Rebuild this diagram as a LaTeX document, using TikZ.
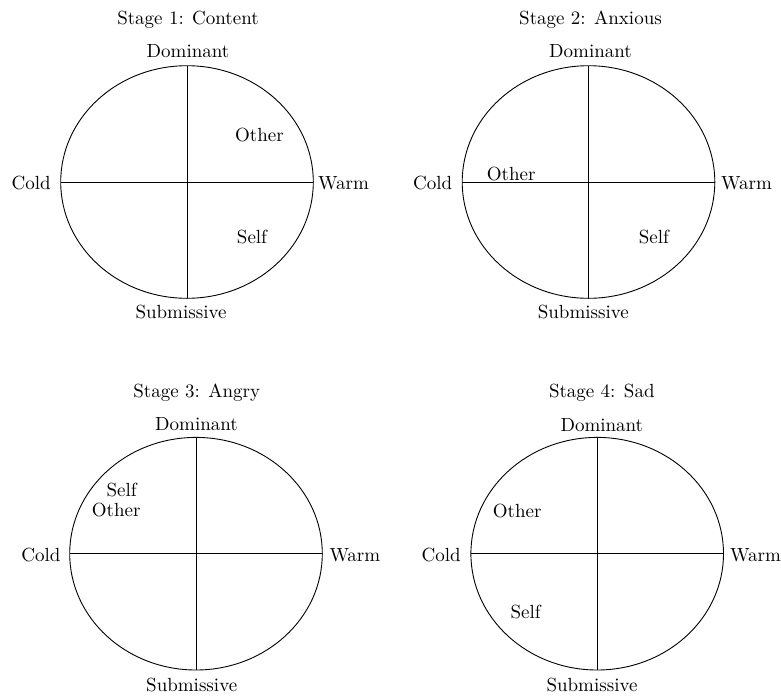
\documentclass[tikz,border=0pt]{standalone}
\usepackage{fontspec}
\setmainfont{lmroman10-regular.otf}
\begin{document}
\begin{tikzpicture}[x=1pt,y=-1pt,
  lbl/.style={inner sep=0pt,anchor=base,font=\fontsize{19}{22}\selectfont},
  lbleast/.style={lbl,anchor=base east},
  lblwest/.style={lbl,anchor=base west},
  circ/.style={draw,line width=0.9pt},
  axis/.style={draw,line width=0.9pt}]
\useasboundingbox (0,0) rectangle (781,696);
\newcommand\drawstage[3]{%
  \coordinate (#1c) at (#2,#3);
  \coordinate (#1l) at (#2-126.3,#3);
  \coordinate (#1r) at (#2+126.3,#3);
  \coordinate (#1t) at (#2,#3-116.3);
  \coordinate (#1b) at (#2,#3+116.3);
  \draw[circ] (#1c) ellipse [x radius=126.3, y radius=116.3];
  \draw[axis] (#1l) -- (#1r);
  \draw[axis] (#1t) -- (#1b);
}
% Stage 1
\drawstage{a}{187}{182}
\node[lbl] (atitle) at (188,24) {Stage 1: Content};
\node[lbl] (adom) at (188,57.3) {Dominant};
\node[lbl] (asub) at (181,318.3) {Submissive};
\node[lbleast] (acold) at (51,189.3) {Cold};
\node[lblwest] (awarm) at (318,189.3) {Warm};
\node[lbl] (aother) at (259.5,141.7) {Other};
\node[lbl] (aself) at (252,243.3) {Self};
% Stage 2
\drawstage{b}{588.5}{182}
\node[lbl] (btitle) at (590.5,24) {Stage 2: Anxious};
\node[lbl] (bdom) at (590.5,57.3) {Dominant};
\node[lbl] (bsub) at (583.3,318.3) {Submissive};
\node[lbleast] (bcold) at (452.3,189.3) {Cold};
\node[lblwest] (bwarm) at (721,189.3) {Warm};
\node[lbl] (bother) at (511.2,180) {Other};
\node[lbl] (bself) at (653.8,243.3) {Self};
% Stage 3
\drawstage{c}{196}{553.7}
\node[lbl] (ctitle) at (196.7,397.3) {Stage 3: Angry};
\node[lbl] (cdom) at (196.5,430) {Dominant};
\node[lbl] (csub) at (191.7,691.7) {Submissive};
\node[lbleast] (ccold) at (60.7,561) {Cold};
\node[lblwest] (cwarm) at (329.3,561) {Warm};
\node[lbl] (cself) at (121.7,496.7) {Self};
\node[lbl] (cother) at (116.2,516.7) {Other};
% Stage 4
\drawstage{d}{597.2}{553.7}
\node[lbl] (dtitle) at (601.8,397.3) {Stage 4: Sad};
\node[lbl] (ddom) at (601.8,431) {Dominant};
\node[lbl] (dsub) at (592,691.7) {Submissive};
\node[lbleast] (dcold) at (461,561.7) {Cold};
\node[lblwest] (dwarm) at (730,561.7) {Warm};
\node[lbl] (dother) at (517.2,517.7) {Other};
\node[lbl] (dself) at (525.7,618.3) {Self};
\end{tikzpicture}
\end{document}
